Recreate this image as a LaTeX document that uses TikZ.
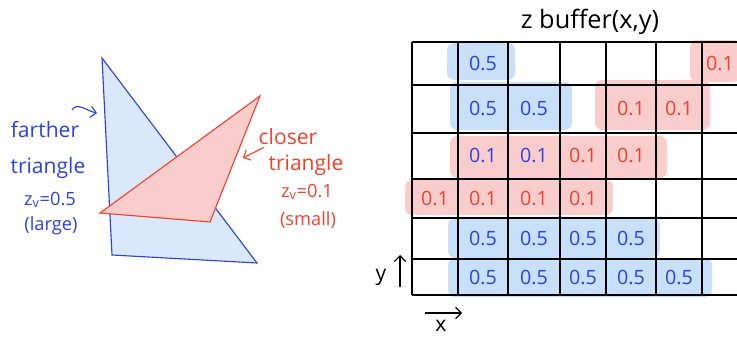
\documentclass[tikz,border=0pt]{standalone}
\usepackage{fontspec}
\setmainfont{Open Sans}
\usetikzlibrary{arrows.meta}
\definecolor{penblue}{RGB}{45,65,225}
\definecolor{penred}{RGB}{240,65,45}
\definecolor{fillblue}{RGB}{200,224,250}
\definecolor{fillred}{RGB}{250,205,205}

\begin{document}
\begin{tikzpicture}[
    bluepatch/.style={fill=fillblue,rounded corners=5pt},
    redpatch/.style={fill=fillred,rounded corners=5pt},
    bval/.style={text=penblue,font=\fontsize{14}{16}\selectfont},
    rval/.style={text=penred,font=\fontsize{14}{16}\selectfont},
    bnote/.style={text=penblue,font=\fontsize{15}{17}\selectfont},
    rnote/.style={text=penred,font=\fontsize{15}{17}\selectfont}]
  \useasboundingbox (0,0) rectangle (18.425,8.45);
  % the two triangles
  \coordinate (b1) at (2.55,7.0);
  \coordinate (b2) at (2.8,2.075);
  \coordinate (b3) at (6.425,1.875);
  \coordinate (t1) at (2.5,3.125);
  \coordinate (t2) at (6.5,6.05);
  \coordinate (t3) at (5.25,2.9);
  \filldraw[fill=fillblue!70,draw=penblue,thick] (b1) -- (b2) -- (b3) -- cycle;
  \filldraw[fill=fillred,draw=penred,thick] (t1) -- (t2) -- (t3) -- cycle;
  \node[bnote] (far1) at (1.125,5.2) {farther};
  \node[bnote] (far2) at (1.2,4.25) {triangle};
  \node[bnote,font=\fontsize{13}{15}\selectfont] (far3) at (1.25,3.45) {z\textsubscript{v}=0.5};
  \node[bnote,font=\fontsize{13}{15}\selectfont] (far4) at (1.275,2.8) {(large)};
  \node[rnote] (clo1) at (7.2,5.025) {closer};
  \node[rnote] (clo2) at (7.65,4.325) {triangle};
  \node[rnote,font=\fontsize{13}{15}\selectfont] (clo3) at (7.675,3.65) {z\textsubscript{v}=0.1};
  \node[rnote,font=\fontsize{13}{15}\selectfont] (clo4) at (7.7,2.95) {(small)};
  \coordinate (farpt) at (2.425,5.625);
  \coordinate (clopt) at (6.075,4.5);
  \draw[penblue,thick,-{Straight Barb[length=4pt]}] (1.8,5.7) to[out=60,in=170] (farpt);
  \draw[penred,thick,-{Straight Barb[length=4pt]}] (clo2.north west) ++(0,0.05) -- (clopt);
  % highlighted cells
  \fill[bluepatch] (11.175,6.45) rectangle (12.875,7.375);
  \fill[redpatch] (17.25,6.4) rectangle (18.5,7.45);
  \fill[bluepatch] (11.25,5.2) rectangle (14.3,6.4);
  \fill[redpatch] (14.875,5.2) rectangle (17.75,6.45);
  \fill[redpatch] (11.25,4.0) rectangle (16.675,5.05);
  \fill[redpatch] (10.125,3.075) rectangle (15.325,3.95);
  \fill[bluepatch] (11.2,2.0) rectangle (16.5,3.0);
  \fill[bluepatch] (11.2,1.025) rectangle (17.8,2.0);
  % the grid
  \draw[thick] (10.3,7.4) -- (18.425,7.4) (10.3,6.325) -- (18.425,6.325)
    (10.3,5.125) -- (18.425,5.125) (10.3,3.975) -- (18.425,3.975)
    (10.3,3.0) -- (18.425,3.0) (10.3,1.975) -- (18.425,1.975)
    (10.3,1.075) -- (18.425,1.075);
  \draw[thick] (10.3,7.4) -- (10.3,1.075) (11.45,7.4) -- (11.45,1.075)
    (12.7,7.4) -- (12.7,1.075) (14.0,7.4) -- (14.0,1.075)
    (15.15,7.4) -- (15.15,1.075) (16.4,7.4) -- (16.4,1.075)
    (17.55,7.4) -- (17.55,1.075);
  \node[font=\fontsize{18}{20}\selectfont] (title) at (14.75,7.9) {z buffer(x,y)};
  % values
  \node[bval] (r1c2) at (12.075,6.86) {0.5};
  \node[rval] (r1c8) at (18.0,6.86) {0.1};
  \node[bval] (r2c2) at (12.075,5.725) {0.5};
  \node[bval] (r2c3) at (13.35,5.725) {0.5};
  \node[rval] (r2c5) at (15.775,5.725) {0.1};
  \node[rval] (r2c6) at (16.975,5.725) {0.1};
  \node[bval] (r3c2) at (12.075,4.55) {0.1};
  \node[bval] (r3c3) at (13.35,4.55) {0.1};
  \node[rval] (r3c4) at (14.575,4.55) {0.1};
  \node[rval] (r3c5) at (15.775,4.55) {0.1};
  \node[rval] (r4c1) at (10.875,3.49) {0.1};
  \node[rval] (r4c2) at (12.075,3.49) {0.1};
  \node[rval] (r4c3) at (13.35,3.49) {0.1};
  \node[rval] (r4c4) at (14.575,3.49) {0.1};
  \node[bval] (r5c2) at (12.075,2.49) {0.5};
  \node[bval] (r5c3) at (13.35,2.49) {0.5};
  \node[bval] (r5c4) at (14.575,2.49) {0.5};
  \node[bval] (r5c5) at (15.775,2.49) {0.5};
  \node[bval] (r6c2) at (12.075,1.525) {0.5};
  \node[bval] (r6c3) at (13.35,1.525) {0.5};
  \node[bval] (r6c4) at (14.575,1.525) {0.5};
  \node[bval] (r6c5) at (15.775,1.525) {0.5};
  \node[bval] (r6c6) at (16.975,1.525) {0.5};
  % axes
  \coordinate (ylow) at (10.0,1.275);
  \coordinate (yhigh) at (10.0,2.075);
  \coordinate (xlow) at (10.625,0.625);
  \coordinate (xhigh) at (11.55,0.625);
  \draw[thick,-{Straight Barb[length=4pt]}] (ylow) -- (yhigh);
  \draw[thick,-{Straight Barb[length=4pt]}] (xlow) -- (xhigh);
  \node[font=\fontsize{15}{17}\selectfont] (ylab) at (9.525,1.525) {y};
  \node[font=\fontsize{15}{17}\selectfont,inner sep=1pt] (xlab) at (11.025,0.3) {x};
\end{tikzpicture}
\end{document}
